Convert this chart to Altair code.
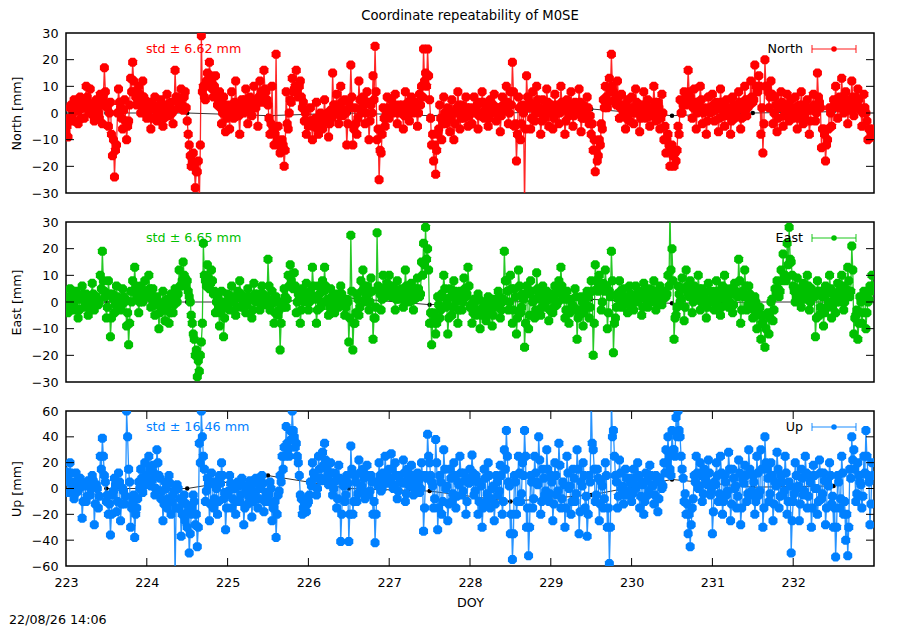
import altair as alt
import pandas as pd

FONT = "DejaVu Sans"
FS = 12.7
title_text = "Coordinate repeatability of M0SE"
footer_text = "22/08/26 14:06"
x_label_values = [223, 224, 225, 226, 227, 228, 229, 230, 231, 232]
x_inner_ticks = [224, 225, 226, 227, 228, 229, 230, 231, 232]
start_doy = 223.0
step_doy = 0.025      # spacing of the "main" epochs; "mid" epochs sit half a step later

# ---------------- North [mm] ----------------
north_main = [
    [-7, -9, 2, -3, 5, 1, -4, 6, 3, -2, 10, 4, 9, 2, -3, 5, 0, 7, -4, 17],
    [3, -5, 4, -16, -24, -12, 9, 2, -6, 5, -10, -3, 13, 19, 8, 3, 10, 0, 12, 5],
    [-2, 4, -6, 2, 6, -3, 0, 5, -5, 3, 7, -1, 4, -4, 16, 6, 2, 9, 1, 8],
    [-3, -12, -20, -15, -28, -22, -35, 29, 10, 5, 15, 19, 12, 6, 14, 3, 8, -4, 6, -7],
    [2, -6, 8, -2, 12, 3, -8, 5, 0, 9, -4, 6, -1, 10, 2, -5, 12, 4, 16, 8],
    [3, -8, 10, -12, 22, -5, -15, -10, -20, 8, -6, 5, 13, 9, 16, 6, 12, 2, -3, -8],
    [-5, 2, -10, -3, 4, -8, 0, -6, 5, -2, -9, 1, 15, 3, 7, -4, 10, -1, 5, -12],
    [4, 18, -12, 2, -8, 12, 0, 6, -4, 8, -10, 3, 14, 25, -10, -25, -15, 2, -5, 6],
    [-2, 5, 0, 7, -4, 3, 1, -6, 8, 2, -3, 6, 0, 4, -5, 7, 10, 24, 15, 24],
    [5, -12, -18, -23, -8, 3, -10, 6, -4, 2, -7, 5, -10, 0, 8, -6, 3, -2, 6, -5],
    [2, -4, 6, 0, -6, 4, 8, -2, 3, -5, 5, 0, 7, -3, 2, -7, 6, 1, 10, -4],
    [8, 19, -5, -18, 6, -10, 3, -35, 14, 2, -6, 8, -3, 10, 0, -8, 5, -2, 9, -5],
    [3, -6, 7, 0, -4, 10, 2, -8, 5, -1, 8, -5, 4, 0, 9, -7, 3, -2, 6, -4],
    [-8, -14, -22, -18, -10, -4, 5, 10, 2, 13, 22, 8, 4, 12, -2, 7, 0, -6, 5, -3],
    [6, -4, 9, 0, -7, 3, 8, -2, 5, -5, 2, 10, -3, 4, -6, 7, -10, -15, -8, -20],
    [-12, -20, -18, -5, 5, 0, 8, 3, 16, 6, -2, 9, -6, 4, 10, -4, 2, -8, 6, 0],
    [7, -3, 4, -7, 9, 1, -5, 5, 0, -8, 6, -2, 3, 8, -6, 2, 10, -1, 5, 12],
    [4, 18, 8, 14, -8, -15, 20, 10, 2, 12, -4, 6, -7, 3, 8, -5, 1, 7, -3, 5],
    [-2, 6, -6, 3, 8, -4, 0, 5, -8, 2, 7, -3, 15, 4, -13, -6, -18, -10, 2, -5],
    [5, 10, -2, 6, 13, 0, 8, -4, 3, 12, -1, 6, 9, 2, -5, 7, 0, -10, -6, -9],
]
north_mid = [
    [-5, -2, 3, 0, -3, 4, 1, -2, 5, 2, 6, 0, 3, -1, 4, 1, -2, 3, 6, 8],
    [2, 0, -8, -10, -14, 0, 4, -2, 1, -3, -5, 3, 8, 12, 6, 5, 7, 3, 6, 2],
    [0, 2, -2, 3, 1, -1, 3, 0, -2, 1, 3, 2, 0, 1, 6, 4, 5, 3, 6, 2],
    [-8, -16, -18, -20, -22, -18, -12, 8, 6, 12, 10, 14, 9, 10, 8, 5, 2, 0, 3, -2],
    [3, 0, 2, 4, 1, -1, 3, 2, 5, 1, 3, 0, 4, 2, 5, 6, 8, 6, 9, 5],
    [-2, -4, -6, -8, -10, -12, -14, -12, -14, -4, 0, 4, 8, 10, 8, 10, 6, 4, 0, -3],
    [-3, -4, -5, -2, -6, -3, -4, -1, -3, 0, -4, -2, 3, 0, 2, -1, 4, 1, 0, -4],
    [2, 6, -6, -4, -2, 5, 2, 3, 0, 4, -3, 0, 5, 8, -6, -14, -8, -2, 0, 2],
    [1, 2, 3, 2, 0, 1, 3, -1, 3, 4, 0, 2, 3, 1, 0, 3, 6, 12, 10, 14],
    [-2, -8, -12, -14, -6, -2, -4, 0, -3, 1, -2, 0, -4, 2, 3, -2, 1, 0, 2, -1],
    [0, 1, 2, 3, -1, 0, 4, 1, 0, -2, 2, 3, 1, 0, 2, -1, 3, 2, 4, 0],
    [3, 8, -4, -8, 2, -4, 0, -6, 6, 4, -2, 3, 0, 5, 2, -3, 1, 2, 4, 0],
    [1, -2, 3, 2, 0, 4, 1, -3, 2, 0, 3, -1, 2, 1, 4, -2, 0, 1, 2, -1],
    [-4, -10, -14, -16, -12, -6, 2, 6, 4, 8, 10, 5, 3, 6, 2, 3, 1, -2, 2, 0],
    [2, 0, 4, 1, -2, 1, 3, 0, 2, -1, 1, 4, 0, 2, -2, 0, -5, -10, -12, -14],
    [-16, -15, -14, -8, 0, 3, 5, 6, 8, 4, 2, 4, 0, 2, 5, 0, 1, -3, 2, 1],
    [3, 1, 2, -2, 4, 2, -1, 2, 1, -3, 3, 0, 2, 4, -2, 1, 5, 2, 3, 6],
    [5, 10, 8, 10, 2, -4, 10, 8, 6, 7, 0, 3, -2, 2, 4, -1, 2, 3, 0, 2],
    [0, 2, -2, 1, 3, -1, 2, 1, -3, 1, 3, 0, 6, 2, -6, -8, -12, -6, 0, 2],
    [3, 5, 2, 4, 6, 3, 5, 1, 4, 6, 2, 3, 5, 1, 0, 2, -3, -6, -8, -6],
]

# ---------------- East [mm] ----------------
east_main = [
    [2, -4, 5, 0, -3, 4, -6, 1, 6, -2, 3, -5, 0, 7, -3, 2, -1, 10, 19, 4],
    [-6, 8, -13, 3, -4, 6, 1, -3, 5, 0, -9, -16, 4, 8, 13, 2, -4, 6, 0, 8],
    [3, 10, -2, 5, -5, 2, -10, -3, 4, -7, 1, -8, 3, -4, 5, 0, 12, 6, 15, 9],
    [8, 2, -5, -12, -20, -28, -26, -15, 22, 8, 14, 5, 12, 3, -4, 2, -9, 4, -13, -2],
    [3, -3, 6, 0, -5, 4, 8, -2, 2, -4, 5, 1, -6, 7, 0, 3, -3, 6, -1, 2],
    [16, -3, 4, -8, 2, -5, -18, 0, 5, -2, 10, 14, 6, 11, -4, 3, -8, 5, 0, 7],
    [-3, 4, 13, 2, -8, 6, -2, 8, 13, 0, -5, 5, 2, -4, 3, -2, 6, 0, -5, 1],
    [-15, 25, -18, -8, 3, -5, 8, 12, 0, 6, -3, 9, -14, -6, 26, 5, -3, 10, 2, 7],
    [10, 2, 6, -3, 8, 1, 5, -2, 12, 4, 0, 7, -3, 5, 9, 2, 15, 22, 28, 20],
    [-8, -16, -4, -12, 2, -6, 3, 10, -2, -12, 5, -5, 8, 0, -8, 4, -3, 9, 2, 13],
    [-2, -8, 1, -5, 3, -10, -3, 0, -7, 2, -4, -9, 1, -2, 4, -6, 0, 19, 8, -3],
    [10, -8, 5, -12, 12, -4, 3, -17, 6, -10, 8, 0, -6, 11, 2, -5, 6, -2, 4, -7],
    [3, -4, 6, -1, 8, 13, 2, -6, 4, -8, 1, -3, 5, -14, -5, 2, -9, 0, 4, -6],
    [8, -20, 14, 5, 10, -3, 7, 12, -10, 4, 19, -19, -6, 3, 8, -2, 5, 0, -4, 6],
    [2, -3, 6, 0, 4, -5, 7, 1, -2, 5, 0, 8, -3, 3, 6, -1, 4, 2, 10, 35],
    [20, -14, -5, 6, 0, 9, -7, 12, 3, 8, -4, 6, 1, 10, -3, 5, 2, -6, 7, 0],
    [4, -3, 8, 1, -5, 6, 10, 0, -2, 5, -4, 7, 3, 16, -8, 4, 12, -3, 6, 0],
    [-6, 2, -10, -3, -14, -8, -17, -5, -12, 0, -7, 5, 8, 2, 12, 18, 10, 22, 28, 15],
    [6, 0, 9, 3, -2, 7, 1, 10, -3, 5, 2, -13, 8, -5, 4, -9, 6, -2, 10, -6],
    [3, -4, 7, 0, 10, -3, 5, 13, 2, 21, -12, -5, -14, 2, -8, 4, -10, 0, 6, 10],
]
east_mid = [
    [0, -1, 2, 1, -2, 1, -3, 2, 3, 0, 1, -2, 2, 3, 0, 1, 0, 5, 8, 2],
    [-2, 3, -6, 1, -1, 2, 0, -1, 2, 1, -4, -8, 0, 4, 6, 3, 0, 3, 2, 4],
    [2, 5, 1, 2, -1, 0, -4, -2, 0, -3, -1, -4, 0, -1, 2, 3, 6, 8, 10, 6],
    [4, 0, -8, -14, -18, -22, -20, -8, 10, 6, 9, 7, 8, 4, 0, -2, -4, 0, -6, -1],
    [1, 0, 2, 1, -2, 2, 3, 0, 1, -1, 2, 1, -3, 3, 1, 2, -1, 3, 0, 1],
    [6, -1, 1, -4, 0, -3, -8, -2, 2, 1, 6, 8, 5, 6, 0, 2, -3, 2, 1, 3],
    [0, 2, 6, 1, -3, 3, 0, 4, 6, 1, -2, 2, 1, -1, 2, 0, 3, 1, -2, 0],
    [-6, 4, -8, -4, 1, -2, 4, 6, 2, 3, 0, 4, -6, -2, 6, 3, 1, 5, 3, 4],
    [5, 3, 4, 1, 4, 2, 3, 1, 6, 3, 2, 4, 1, 3, 5, 3, 10, 14, 16, 12],
    [-4, -8, -6, -8, -1, -3, 2, 5, 0, -6, 2, -2, 4, 1, -3, 2, 0, 5, 3, 6],
    [-1, -4, 0, -3, 1, -5, -2, -1, -4, 0, -2, -5, 0, -1, 2, -3, 1, 8, 4, 0],
    [5, -3, 2, -6, 6, -2, 1, -8, 3, -5, 4, 1, -3, 5, 1, -2, 3, 0, 2, -3],
    [1, -2, 3, 0, 4, 6, 1, -3, 1, -4, -1, -2, 2, -6, -3, 0, -4, -1, 2, -2],
    [4, -8, 8, 4, 6, 0, 4, 6, -4, 2, 8, -8, -2, 1, 4, 0, 2, 1, -1, 3],
    [1, 0, 3, 1, 2, -2, 4, 1, 0, 3, 1, 4, 0, 2, 3, 1, 2, 3, 6, 12],
    [8, -6, -2, 3, 1, 5, -2, 6, 2, 4, 0, 3, 2, 5, 0, 3, 1, -2, 4, 1],
    [2, 0, 4, 2, -2, 3, 5, 1, 0, 3, -1, 4, 2, 8, -3, 2, 6, -1, 3, 1],
    [-3, 0, -5, -2, -8, -5, -10, -4, -6, 1, -3, 3, 5, 4, 8, 10, 8, 14, 16, 10],
    [4, 2, 5, 3, 1, 4, 2, 6, 0, 3, 2, -6, 4, -2, 2, -4, 3, 0, 5, -2],
    [2, 0, 4, 2, 6, 0, 3, 8, 4, 12, -6, -3, -8, 0, -4, 2, -4, 1, 4, 6],
]

# ---------------- Up [mm] ----------------
up_main = [
    [13, -3, 20, 5, -8, 12, -2, 8, -23, 4, -10, 6, -5, 10, -28, 3, -15, 25, 39, 10],
    [-10, -20, -36, -5, 8, -18, 12, -25, 0, -12, 60, 15, -30, -10, -38, -15, 5, 15, -3, 20],
    [8, 25, 2, 18, -5, 30, 10, -8, -25, 5, -15, 10, -20, -5, -70, 3, -15, -37, -10, -25],
    [-30, -50, -20, -5, -28, -45, 35, 60, 25, -10, 8, -25, 12, -15, 5, -20, 10, 20, -8, -32],
    [-5, 10, -15, 3, -20, 5, -10, 8, -28, 0, -12, 6, -22, -3, 8, -15, 2, 10, -18, -5],
    [-10, 5, -25, -15, -38, -5, 10, 25, 32, 48, 30, 45, 60, 40, 35, 20, -5, -20, -12, -18],
    [-10, 5, 20, 10, -5, 25, 8, 28, 35, 15, 3, 20, -5, 12, -15, 18, -41, 5, -10, 10],
    [-41, 33, -20, 10, -10, 22, 0, 15, -8, 18, -5, 10, -20, -42, 5, 20, -2, 12, 25, 5],
    [15, 27, 0, 20, -8, 10, 5, 22, -10, 15, 2, 18, -5, 8, 12, -3, 20, -33, 10, 42],
    [20, 5, -15, 38, -32, 10, -20, 30, 0, -25, 15, -10, 20, -15, 5, 25, -5, 12, -20, 8],
    [15, 26, -5, 10, -20, 5, -30, 15, -10, 20, -15, 0, -25, 10, -5, 18, -20, 30, 45, 5],
    [-35, -55, 10, -20, 25, -10, 20, 45, -30, -52, 10, -15, 25, 5, 40, -20, 15, -5, 30, -10],
    [10, -25, 20, -5, 35, -15, 5, -30, 25, 0, -20, 15, -10, 30, -35, 5, 20, -15, -37, 10],
    [70, 30, -10, 15, -25, 5, -15, 20, -30, -58, 70, 45, 10, -15, 22, 0, -12, 15, -5, 8],
    [-10, 15, 0, 20, -15, 5, -20, 12, -5, 18, 3, -12, 10, -18, 8, 0, 20, 30, 40, 15],
    [45, 30, 55, 60, 40, 15, -10, -20, -35, -45, -15, 10, 25, 0, 20, -10, 15, 5, 22, -5],
    [-35, 5, 20, -10, 25, -20, 10, -5, 28, -25, 15, 0, -15, 22, -28, 8, 18, -10, 30, -5],
    [10, -20, 25, -5, 30, -30, 40, 15, -10, 20, -25, 5, 28, -15, 10, -5, 25, -20, 5, -50],
    [-10, 20, 0, -25, 15, -5, 25, -15, 10, -30, 18, 0, -20, 22, -8, 12, -28, 5, 20, -12],
    [-30, -53, 10, -15, 25, -20, -40, -52, 15, 40, 30, -10, 20, 5, -15, 25, 45, 10, -28, 20],
]
up_mid = [
    [10, 5, 12, 2, -4, 6, 0, 4, -10, 2, -6, 3, 0, 6, -12, 0, -6, 15, 25, 5],
    [-5, -12, -20, -2, 3, -10, 5, -12, -2, -6, 40, 5, -15, -5, -20, -8, 0, 8, 2, 10],
    [5, 15, 6, 12, 0, 20, 8, -2, -12, 0, -8, 4, -10, -2, -15, 0, -8, -20, -5, -12],
    [-18, -35, -15, -10, -20, -30, 20, 40, 15, -2, 3, -12, 5, -8, 0, -10, 4, 10, -3, -15],
    [-2, 4, -8, 0, -10, 2, -5, 3, -15, -2, -6, 2, -10, -3, 4, -8, 0, 4, -10, -3],
    [-5, 0, -15, -10, -20, -2, 5, 15, 25, 35, 25, 38, 45, 32, 25, 10, -8, -15, -8, -12],
    [-5, 2, 12, 8, 0, 15, 6, 18, 22, 10, 5, 12, 0, 6, -8, 8, -20, 2, -5, 4],
    [-20, 15, -10, 5, -4, 12, 2, 8, -3, 10, -2, 5, -10, -20, 2, 10, 0, 6, 12, 4],
    [8, 15, 3, 10, -2, 6, 4, 12, -4, 8, 3, 10, 0, 5, 6, 0, 10, -15, 8, 25],
    [10, 2, -8, 20, -15, 5, -10, 15, 2, -12, 8, -4, 10, -6, 3, 12, -2, 6, -10, 4],
    [8, 12, -2, 5, -10, 2, -15, 8, -4, 10, -8, 2, -12, 5, -2, 10, -10, 15, 25, 2],
    [-20, -35, 5, -10, 12, -4, 10, 25, -15, -30, 5, -8, 12, 3, 22, -10, 8, -2, 15, -4],
    [5, -12, 10, -2, 18, -8, 3, -15, 12, 2, -10, 8, -4, 15, -18, 2, 10, -6, -20, 5],
    [35, 15, -5, 8, -12, 2, -8, 10, -15, -30, 40, 25, 5, -6, 12, 2, -5, 8, -2, 4],
    [-4, 8, 2, 10, -6, 3, -10, 6, -2, 10, 2, -5, 6, -8, 4, 2, 12, 20, 25, 10],
    [30, 25, 40, 45, 25, 8, -4, -12, -20, -28, -8, 5, 12, 2, 10, -4, 8, 3, 12, -2],
    [-18, 3, 10, -4, 12, -10, 5, -2, 15, -12, 8, 2, -6, 12, -15, 4, 10, -4, 15, -2],
    [5, -10, 12, -2, 15, -15, 20, 8, -4, 10, -12, 2, 15, -6, 5, -2, 12, -10, 2, -25],
    [-4, 10, 2, -12, 8, -2, 12, -6, 5, -15, 10, 0, -10, 12, -4, 6, -15, 2, 10, -6],
    [-15, -30, 5, -8, 12, -10, -20, -30, 8, 22, 15, -4, 10, 3, -6, 12, 25, 5, -12, 10],
]

# sparse black reference solutions
ref_doy = [223.5, 224.5, 225.5, 226.5, 227.5, 228.5, 229.5, 230.5, 231.5, 232.5]
north_ref = [0, 0, -1, 0, -1, 0, 1.5, -1, 0, 0.5]
east_ref = [0, 0, 0, 1.5, -1, 0, 1, -0.5, 0, 0]
up_ref = [0, 0, 10, 0, -2, -10, -5, 7, 1, 2]

# marker: octagon-like blob (diamond with error-bar caps)
MARKER = "M-0.45,-1H0.45L1,-0.45V0.45L0.45,1H-0.45L-1,0.45V-0.45Z"


def series(main_rows, mid_rows):
    main = [v for r in main_rows for v in r]
    mid = [v for r in mid_rows for v in r]
    doy, vals = [], []
    for i in range(len(main)):
        doy.append(round(start_doy + i * step_doy, 4))
        vals.append(main[i])
        doy.append(round(start_doy + (i + 0.5) * step_doy, 4))
        vals.append(mid[i])
    return pd.DataFrame({"DOY": doy, "v": vals})


W = 808


def make_panel(df, ref_vals, color, name, ylabel, ydom, ylabels, yinner,
               std_text, height, bottom=False, top=False):
    rdf = pd.DataFrame({"DOY": ref_doy, "v": ref_vals})
    xscale = alt.Scale(domain=[223, 233], nice=False, zero=False)
    yscale = alt.Scale(domain=ydom, nice=False, zero=False)
    if bottom:
        xaxis = alt.Axis(values=x_label_values, ticks=False, domain=False, grid=False,
                         title="DOY", labelPadding=10, titlePadding=8, format="d",
                         labelFlush=False)
    else:
        xaxis = None
    yaxis = alt.Axis(values=ylabels, ticks=False, domain=False, grid=False,
                     title=ylabel, labelPadding=8, titlePadding=8, format="d",
                     labelFlush=False)
    X = alt.X("DOY:Q", scale=xscale, axis=xaxis)
    Y = alt.Y("v:Q", scale=yscale, axis=yaxis)

    ref_line = alt.Chart(rdf).mark_line(color="black", strokeWidth=0.8, clip=True).encode(x=X, y=Y)
    ref_pts = alt.Chart(rdf).mark_point(shape="circle", filled=True, size=20, color="black",
                                        opacity=1, clip=True).encode(x=X, y=Y)
    line = alt.Chart(df).mark_line(color=color, strokeWidth=1.3, opacity=0.85, clip=True).encode(x=X, y=Y)
    pts = alt.Chart(df).mark_point(shape=MARKER, filled=True, size=81, color=color,
                                   opacity=1, clip=True).encode(x=X, y=Y)

    tdf = pd.DataFrame({"v": yinner})
    lt = alt.Chart(tdf).mark_rule(color="black", strokeWidth=1).encode(
        y=Y, x=alt.value(0), x2=alt.value(8))
    rt = alt.Chart(tdf).mark_rule(color="black", strokeWidth=1).encode(
        y=Y, x=alt.value(W - 8), x2=alt.value(W))

    one = pd.DataFrame({"t": [std_text], "n": [name]})
    std = alt.Chart(one).mark_text(align="left", baseline="middle", fontSize=FS, font=FONT,
                                   color=color).encode(x=alt.value(80), y=alt.value(16), text="t:N")
    leg_t = alt.Chart(one).mark_text(align="right", baseline="middle", fontSize=FS, font=FONT,
                                     color="black").encode(x=alt.value(737), y=alt.value(16), text="n:N")
    leg_l = alt.Chart(one).mark_rule(color=color, strokeWidth=1.5, opacity=0.6).encode(
        x=alt.value(746), x2=alt.value(790), y=alt.value(16))
    leg_c1 = alt.Chart(one).mark_rule(color=color, strokeWidth=1.5, opacity=0.6).encode(
        x=alt.value(746), y=alt.value(12), y2=alt.value(20))
    leg_c2 = alt.Chart(one).mark_rule(color=color, strokeWidth=1.5, opacity=0.6).encode(
        x=alt.value(790), y=alt.value(12), y2=alt.value(20))
    leg_p = alt.Chart(one).mark_point(shape="circle", filled=True, size=30, color=color,
                                      opacity=1).encode(x=alt.value(768), y=alt.value(16))

    layers = [ref_line, ref_pts, line, pts, lt, rt, std, leg_t, leg_l, leg_c1, leg_c2, leg_p]
    if bottom:
        xdf = pd.DataFrame({"DOY": x_inner_ticks})
        bt = alt.Chart(xdf).mark_rule(color="black", strokeWidth=1).encode(
            x=X, y=alt.value(height - 8), y2=alt.value(height))
        tt = alt.Chart(xdf).mark_rule(color="black", strokeWidth=1).encode(
            x=X, y=alt.value(0), y2=alt.value(8))
        foot = alt.Chart(pd.DataFrame({"f": [footer_text]})).mark_text(
            align="left", baseline="alphabetic", fontSize=FS, font=FONT, color="black").encode(
            x=alt.value(-57), y=alt.value(height + 58), text="f:N")
        layers += [bt, tt, foot]
    ch = alt.layer(*layers).properties(width=W, height=height)
    if top:
        ch = ch.properties(title=alt.TitleParams(title_text, fontSize=13.2, font=FONT,
                                                 fontWeight="normal", offset=4, color="black"))
    return ch


p1 = make_panel(series(north_main, north_mid), north_ref, "#ff0000", "North", "North [mm]",
                [-30, 30], [-30, -20, -10, 0, 10, 20, 30], [-20, -10, 0, 10, 20],
                "std \u00b1 6.62 mm", 160, top=True)
p2 = make_panel(series(east_main, east_mid), east_ref, "#00c000", "East", "East [mm]",
                [-30, 30], [-30, -20, -10, 0, 10, 20, 30], [-20, -10, 0, 10, 20],
                "std \u00b1 6.65 mm", 160)
p3 = make_panel(series(up_main, up_mid), up_ref, "#0080ff", "Up", "Up [mm]",
                [-60, 60], [-60, -40, -20, 0, 20, 40, 60], [-40, -20, 0, 20, 40],
                "std \u00b1 16.46 mm", 155, bottom=True)

chart = alt.vconcat(p1, p2, p3, spacing=14).properties(
    padding={"left": 0, "top": 0, "right": 0, "bottom": 0}
).configure_view(stroke="black", strokeWidth=1.5).configure_axis(
    labelFont=FONT, labelFontSize=FS, labelColor="black",
    titleFont=FONT, titleFontSize=FS, titleFontWeight="normal", titleColor="black"
).configure_text(font=FONT)

chart.save("out.html", embed_options={"renderer": "svg", "actions": False})
